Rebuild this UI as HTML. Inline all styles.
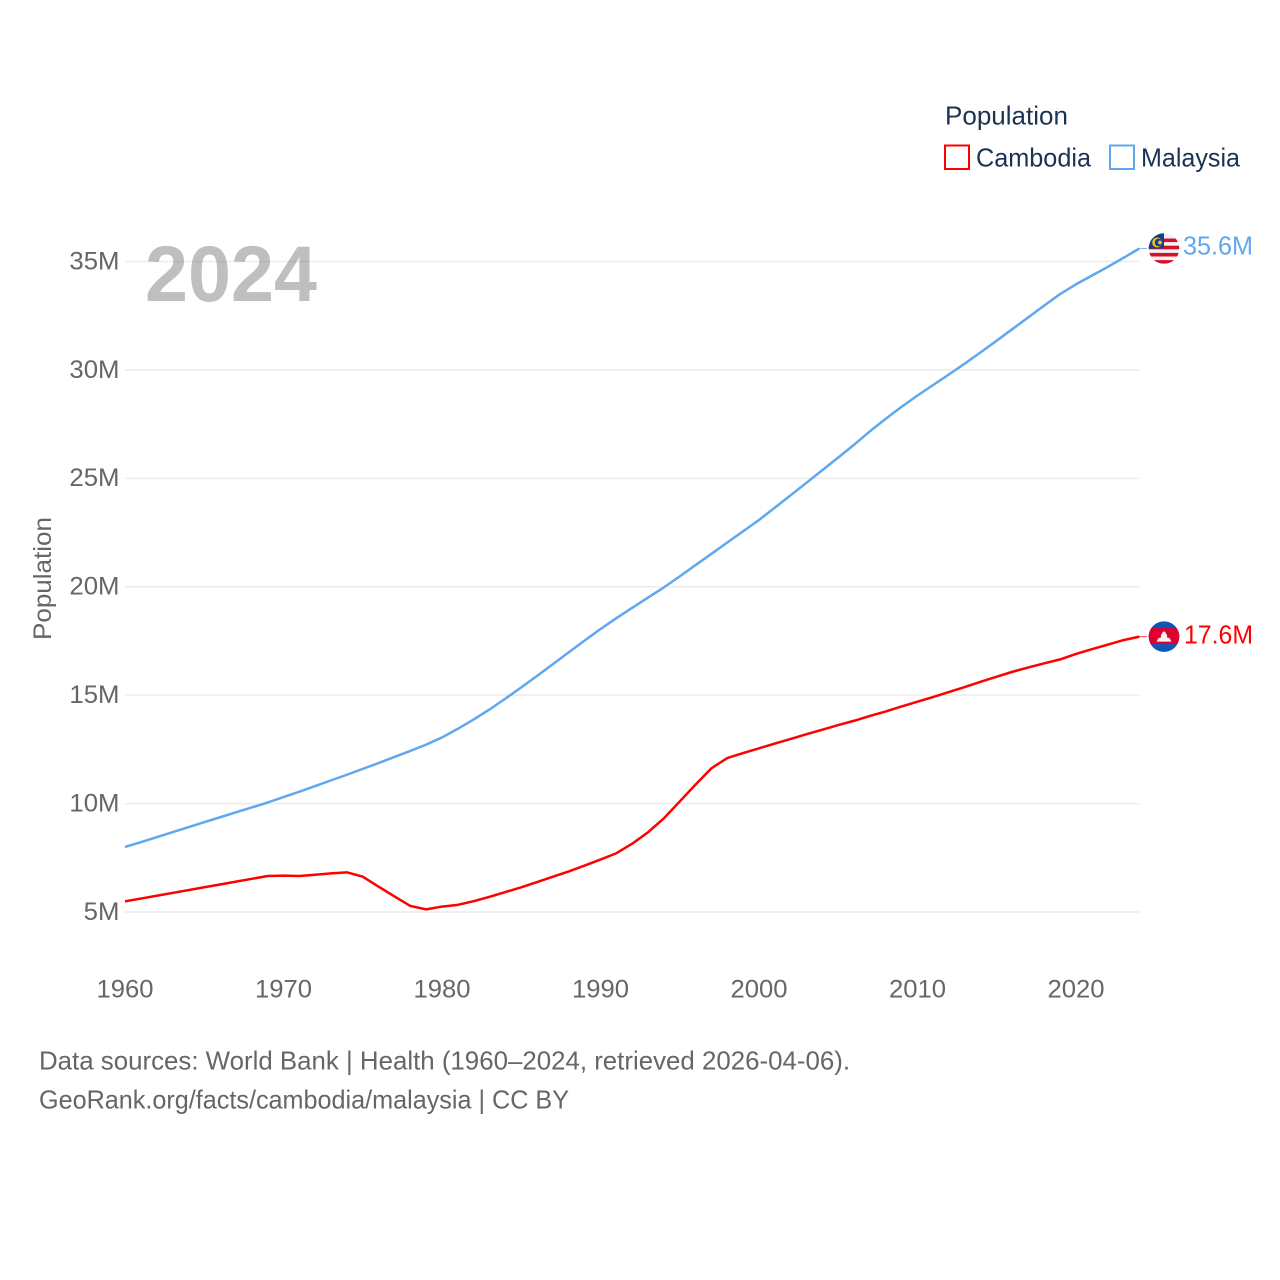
<!DOCTYPE html>
<html lang="en">
<head>
<meta charset="utf-8">
<title>Population: Cambodia and Malaysia</title>
<style>
html,body{margin:0;padding:0;background:#fff;width:1280px;height:1280px;overflow:hidden}
svg{display:block}
text{font-family:"Liberation Sans",sans-serif}
</style>
</head>
<body>
<svg id="chart" width="1280" height="1280" viewBox="0 0 1280 1280" xmlns="http://www.w3.org/2000/svg">
  <defs>
    <clipPath id="flag-clip"><circle cx="0" cy="0" r="15.3"></circle></clipPath>
  </defs>
  <g id="grid"></g>
  <g id="y-ticks"></g>
  <g id="x-ticks"></g>
  <text x="145" y="301" font-size="79" font-weight="700" fill="#808080" opacity="0.5" textLength="172" lengthAdjust="spacingAndGlyphs">2024</text>
  <text transform="translate(51,640) rotate(-90)" font-size="25" fill="#666666" textLength="123" lengthAdjust="spacingAndGlyphs">Population</text>
  <g id="series"></g>

  <g>
    <text x="945" y="124.5" font-size="26" fill="#1b3352" textLength="123" lengthAdjust="spacingAndGlyphs">Population</text>
    <rect x="945" y="145.5" width="24" height="23.5" fill="none" stroke="#ff0000" stroke-width="2"></rect>
    <text x="976" y="166.5" font-size="26" fill="#1b3352" textLength="115" lengthAdjust="spacingAndGlyphs">Cambodia</text>
    <rect x="1110" y="145.5" width="24" height="23.5" fill="none" stroke="#5fa8ee" stroke-width="2"></rect>
    <text x="1141" y="166.5" font-size="26" fill="#1b3352" textLength="99" lengthAdjust="spacingAndGlyphs">Malaysia</text>
  </g>

  <g id="flag-malaysia">
    <g clip-path="url(#flag-clip)" id="flag-malaysia-inner">
      <rect x="-16" y="-16" width="32" height="32" fill="#f2f2f2"></rect>
      <rect x="-16" y="-16" width="16" height="16" fill="#10418f"></rect>
      <circle cx="-6.8" cy="-6" r="5" fill="#f5c518"></circle>
      <circle cx="-5.4" cy="-6" r="3.9" fill="#10418f"></circle>
      <circle cx="-4" cy="-6" r="1.9" fill="#f5c518"></circle>
    </g>
  </g>
  <g id="flag-cambodia">
    <g clip-path="url(#flag-clip)">
      <rect x="-16" y="-16" width="32" height="32" fill="#0f57b4"></rect>
      <rect x="-16" y="-8.5" width="32" height="16" fill="#df0030"></rect>
      <polygon points="-7.5,5 -5.5,1.5 -3.2,1 -3,-1.5 -1,-5 1,-5 3,-1.5 3.2,1 5.5,1.5 7.5,5" fill="#f2f2f2"></polygon>
    </g>
  </g>
  <g id="end-labels"></g>

  <text x="39" y="1069.3" font-size="26" fill="#666666" textLength="811" lengthAdjust="spacingAndGlyphs">Data sources: World Bank | Health (1960–2024, retrieved 2026-04-06).</text>
  <text x="39" y="1108.3" font-size="26" fill="#666666" textLength="530" lengthAdjust="spacingAndGlyphs">GeoRank.org/facts/cambodia/malaysia | CC BY</text>
</svg>
<script>
const years = [1960,1961,1962,1963,1964,1965,1966,1967,1968,1969,1970,1971,1972,1973,1974,1975,1976,1977,1978,1979,1980,1981,1982,1983,1984,1985,1986,1987,1988,1989,1990,1991,1992,1993,1994,1995,1996,1997,1998,1999,2000,2001,2002,2003,2004,2005,2006,2007,2008,2009,2010,2011,2012,2013,2014,2015,2016,2017,2018,2019,2020,2021,2022,2023,2024];
const malaysiaValues = [8.0,8.22,8.45,8.68,8.91,9.14,9.37,9.6,9.82,10.05,10.3,10.55,10.81,11.07,11.33,11.6,11.87,12.15,12.43,12.72,13.05,13.45,13.88,14.34,14.84,15.36,15.89,16.43,16.98,17.52,18.05,18.55,19.03,19.5,19.97,20.48,21.0,21.52,22.04,22.56,23.08,23.65,24.22,24.8,25.38,25.96,26.55,27.17,27.75,28.3,28.82,29.31,29.8,30.3,30.82,31.35,31.89,32.43,32.97,33.5,33.95,34.35,34.75,35.17,35.6];
const cambodiaValues = [5.49,5.62,5.75,5.88,6.01,6.14,6.27,6.4,6.53,6.66,6.68,6.66,6.72,6.78,6.83,6.63,6.17,5.72,5.28,5.12,5.25,5.33,5.5,5.7,5.92,6.14,6.38,6.63,6.87,7.14,7.42,7.71,8.15,8.68,9.32,10.1,10.88,11.63,12.1,12.33,12.55,12.77,12.98,13.2,13.41,13.62,13.82,14.04,14.25,14.48,14.7,14.92,15.15,15.38,15.62,15.85,16.08,16.28,16.47,16.65,16.9,17.12,17.33,17.54,17.7];
const yTickValues = [5,10,15,20,25,30,35];
const yTickLabels = ["5M","10M","15M","20M","25M","30M","35M"];
const xTickLabels = [1960,1970,1980,1990,2000,2010,2020];
const endLabels = ["35.6M","17.6M"];

const NS = "http://www.w3.org/2000/svg";
const xScale = function (year) { return 125 + (year - 1960) * 15.85; };
const yScale = function (value) { return 912 - (value - 5) * 21.683; };
const GRID_RIGHT = xScale(2024);

function svgEl(tag, parent, attrs, content) {
  const el = document.createElementNS(NS, tag);
  Object.keys(attrs).forEach(function (key) { el.setAttribute(key, attrs[key]); });
  if (content !== undefined) el.textContent = content;
  parent.appendChild(el);
  return el;
}

const grid = document.getElementById("grid");
const yTicksGroup = document.getElementById("y-ticks");
yTickValues.forEach(function (value, i) {
  const line = svgEl("line", grid, { x1: 125, x2: GRID_RIGHT, y1: yScale(value), y2: yScale(value), stroke: "#ececec", "stroke-width": 1.5 });
  
  
  const label = yTickLabels[i];
  const label_el = svgEl("text", yTicksGroup, {
    x: 119.5, y: yScale(value) + 7.9, "text-anchor": "end", "font-size": 25, fill: "#666666",
    textLength: (label.length - 1) * 14.3 + 21.5, lengthAdjust: "spacingAndGlyphs"
  }, label);
  
  
});

const xTicksGroup = document.getElementById("x-ticks");
xTickLabels.forEach(function (year) {
  const tick = svgEl("text", xTicksGroup, {
    x: xScale(year), y: 997.3, "text-anchor": "middle", "font-size": 25, fill: "#666666",
    textLength: 57, lengthAdjust: "spacingAndGlyphs"
  }, String(year));
  
  
});

function pathFor(values) {
  return values.map(function (value, i) {
    return (i ? "L" : "M") + xScale(years[i]).toFixed(2) + " " + yScale(value).toFixed(2);
  }).join(" ");
}

const seriesGroup = document.getElementById("series");
const cambodiaLine = svgEl("path", seriesGroup, { d: pathFor(cambodiaValues), fill: "none", stroke: "#ff0000", "stroke-width": 2.5, "stroke-linejoin": "round" });


const malaysiaLine = svgEl("path", seriesGroup, { d: pathFor(malaysiaValues), fill: "none", stroke: "#5fa8ee", "stroke-width": 2.5, "stroke-linejoin": "round" });



const malaysiaEndY = yScale(malaysiaValues[malaysiaValues.length - 1]);
const cambodiaEndY = yScale(cambodiaValues[cambodiaValues.length - 1]);

const malaysiaConnector = svgEl("line", seriesGroup, { x1: GRID_RIGHT, x2: 1147, y1: malaysiaEndY, y2: malaysiaEndY, stroke: "#5fa8ee", "stroke-width": 1, opacity: 0.8 });


const cambodiaConnector = svgEl("line", seriesGroup, { x1: GRID_RIGHT, x2: 1147, y1: cambodiaEndY, y2: cambodiaEndY, stroke: "#ff0000", "stroke-width": 1, opacity: 0.7 });



const flagX = 1164;
const malaysiaFlag = document.getElementById("flag-malaysia");
malaysiaFlag.setAttribute("transform", "translate(" + flagX + "," + malaysiaEndY + ")");
const malaysiaInner = document.getElementById("flag-malaysia-inner");
const cantonAnchor = malaysiaInner.children[1];
for (let s = 0; s < 4; s++) {
  const stripe = document.createElementNS(NS, "rect");
  stripe.setAttribute("x", -16);
  stripe.setAttribute("y", -10 + s * 7.2);
  stripe.setAttribute("width", 32);
  stripe.setAttribute("height", 3.6);
  stripe.setAttribute("fill", "#d3112f");
  
  
  malaysiaInner.insertBefore(stripe, cantonAnchor);
}
const cambodiaFlag = document.getElementById("flag-cambodia");
cambodiaFlag.setAttribute("transform", "translate(" + flagX + "," + cambodiaEndY + ")");

const endLabelGroup = document.getElementById("end-labels");
const malaysiaEndLabel = svgEl("text", endLabelGroup, { x: 1183, y: malaysiaEndY + 6, "font-size": 26, fill: "#5fa8ee", textLength: 70, lengthAdjust: "spacingAndGlyphs" }, endLabels[0]);


const cambodiaEndLabel = svgEl("text", endLabelGroup, { x: 1184, y: cambodiaEndY + 6.7, "font-size": 26, fill: "#ff0000", textLength: 69, lengthAdjust: "spacingAndGlyphs" }, endLabels[1]);


</script>
</body>
</html>
